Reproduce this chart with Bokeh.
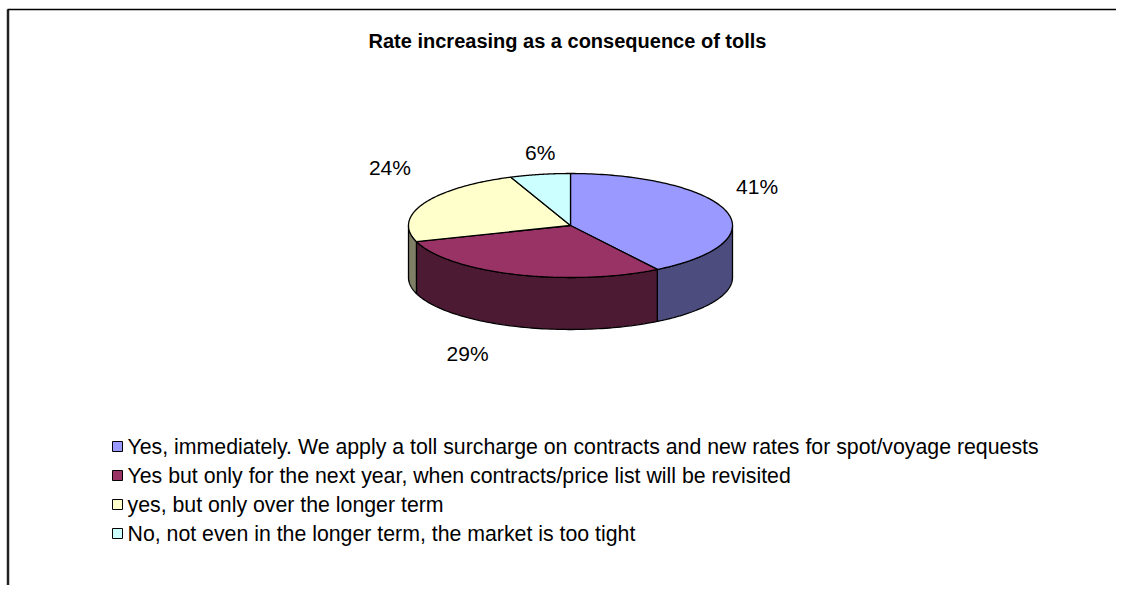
import numpy as np
from bokeh.plotting import figure
from bokeh.models import Range1d
from bokeh.core.properties import value
from bokeh.embed import file_html
from bokeh.resources import INLINE

# ---------------- data ----------------
title_text = "Rate increasing as a consequence of tolls"
categories = [
    "Yes, immediately. We apply a toll surcharge on contracts and new rates for spot/voyage requests",
    "Yes but only for the next year, when contracts/price list will be revisited",
    "yes, but only over the longer term",
    "No, not even in the longer term, the market is too tight",
]
shares = [41, 29, 24, 6]
pct_labels = ["41%", "29%", "24%", "6%"]

# ---------------- style / layout ----------------
top_colors = ["#9999FF", "#993366", "#FFFFCC", "#CCFFFF"]
side_colors = ["#4C4C7F", "#4C1A33", "#7F7F66", "#668080"]
W, H = 1116, 585
CX, CY, RX, RY, DEPTH = 570, 225, 162, 52, 52
label_offsets = [(31, -24), (-48, 27), (-34, -36), (0, -22)]
FONT = "'Liberation Sans', Arial, sans-serif"
LEG_X, LEG_TX, LEG_Y0, LEG_DY = 117, 125, 446, 29.0

p = figure(width=W, height=H, output_backend="svg", toolbar_location=None,
           x_range=Range1d(0, W), y_range=Range1d(H, 0),
           x_axis_location=None, y_axis_location=None, min_border=0)
p.grid.visible = False
p.outline_line_color = None
p.background_fill_color = "white"
p.border_fill_color = "white"

# frame (left and top edges visible)
p.line([7.5, 7.5], [9, H], line_color="#222222", line_width=2.5)
p.line([7, W], [9, 9], line_color="black", line_width=1.5)


def ell(th):
    r = np.radians(th)
    return CX + RX * np.cos(r), CY - RY * np.sin(r)


total = float(sum(shares))
starts, ends = [], []
acc = 0.0
for v in shares:
    a0 = 90 - 360 * acc / total
    a1 = a0 - 360 * v / total
    starts.append(a0)
    ends.append(a1)
    acc += v

# side faces
sx, sy, sc = [], [], []
for a0, a1, c in zip(starts, ends, side_colors):
    for k in (-1, 0, 1):
        lo = max(a1, -180 + 360 * k)
        hi = min(a0, 0 + 360 * k)
        if lo < hi:
            th = np.linspace(hi, lo, 80)
            x, y = ell(th)
            sx.append(list(x) + list(x[::-1]))
            sy.append(list(y) + list((y + DEPTH)[::-1]))
            sc.append(c)
p.patches(sx, sy, fill_color=sc, line_color="black", line_width=1.3)

# top faces
tx, ty = [], []
for a0, a1 in zip(starts, ends):
    th = np.linspace(a0, a1, 120)
    x, y = ell(th)
    tx.append([CX] + list(x))
    ty.append([CY] + list(y))
p.patches(tx, ty, fill_color=top_colors, line_color="black", line_width=1.3)

# percentage labels
lx, ly = [], []
for a0, a1, off in zip(starts, ends, label_offsets):
    mid = (a0 + a1) / 2
    ax, ay = ell(mid)
    if np.sin(np.radians(mid)) < 0:
        ay = ay + DEPTH
    lx.append(ax + off[0])
    ly.append(ay + off[1])
p.text(lx, ly, text=pct_labels, text_font=value(FONT), text_font_size="21px",
       text_align="center", text_baseline="middle", text_color="black")

# title
p.text([567], [40], text=[title_text], text_font=value(FONT), text_font_size="20px",
       text_font_style="bold", text_align="center", text_baseline="middle", text_color="black")

# legend
leg_y = [LEG_Y0 + i * LEG_DY for i in range(len(categories))]
p.scatter([LEG_X] * len(categories), leg_y, marker="square", size=10,
          fill_color=top_colors, line_color="black", line_width=1)
p.text([LEG_TX + 2] * len(categories), leg_y, text=categories, text_font=value(FONT),
       text_font_size="21.3px", text_align="left", text_baseline="middle", text_color="black")

open("out.html", "w").write(file_html(p, INLINE))
